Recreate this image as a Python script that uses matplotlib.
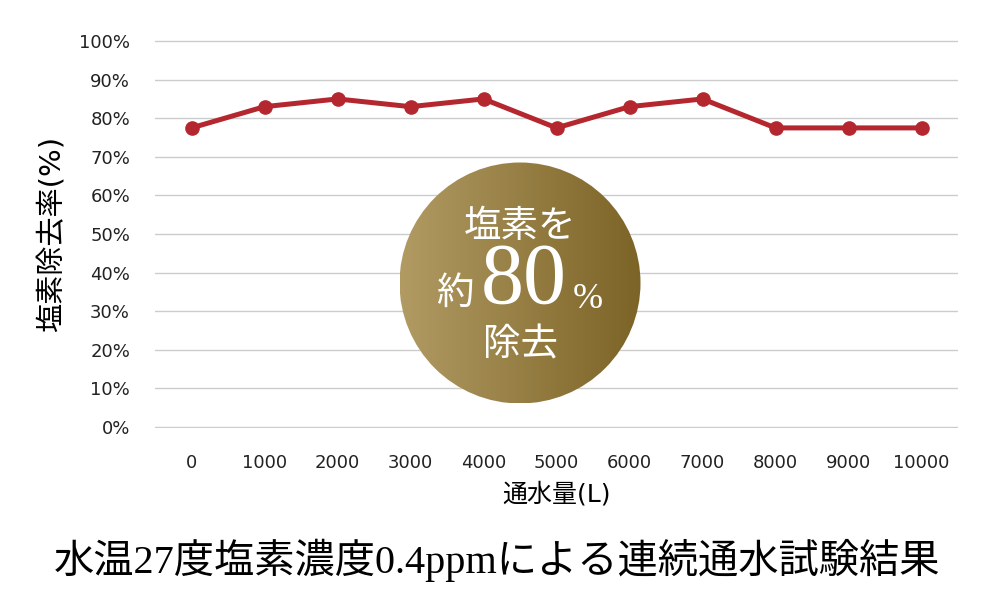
import numpy as np
import matplotlib
matplotlib.use("Agg")
import matplotlib.pyplot as plt
from matplotlib.patches import Circle
from matplotlib.colors import LinearSegmentedColormap

plt.rcParams['font.family'] = ['DejaVu Sans', 'Noto Sans CJK JP']

# data
volume = ["0", "1000", "2000", "3000", "4000", "5000", "6000", "7000", "8000", "9000", "10000"]
removal = [77.5, 83, 85, 83, 85, 77.5, 83, 85, 77.5, 77.5, 77.5]
yticks = [0, 10, 20, 30, 40, 50, 60, 70, 80, 90, 100]

fig = plt.figure(figsize=(10, 6), dpi=100)
ax = fig.add_axes([0.155, 0.2866, 0.803, 0.6466])

x = np.arange(len(volume))
ax.plot(x, removal, color='#b5272f', lw=3.6, marker='o', ms=9.5, zorder=3)

ax.set_xlim(-0.5, len(volume) - 0.5)
ax.set_ylim(-0.25, 100.25)
ax.set_yticks(yticks)
ax.set_yticklabels([f"{v}%" for v in yticks], fontsize=13, color='#222222')
ax.set_xticks(x)
ax.set_xticklabels(volume, fontsize=13, color='#222222')
ax.tick_params(axis='both', length=0)
ax.tick_params(axis='x', pad=19)
ax.tick_params(axis='y', pad=18)
ax.grid(True, axis='y', color='#cccccc', lw=1)
ax.set_axisbelow(True)
for s in ax.spines.values():
    s.set_visible(False)

ax.set_ylabel("塩素除去率(%)", fontsize=21, labelpad=10)
ax.set_xlabel("通水量(L)", fontsize=18, labelpad=7)

fig.text(0.497, 0.066, "水温27度塩素濃度0.4ppmによる連続通水試験結果", ha='center', va='center',
         fontsize=29, family=['Liberation Serif', 'Noto Sans CJK JP'])

# badge with gradient
ov = fig.add_axes([0, 0, 1, 1], zorder=5)
ov.set_xlim(0, 1000)
ov.set_ylim(600, 0)
ov.axis('off')
ov.patch.set_alpha(0)
cx, cy, r = 520, 283, 120.5
cmap = LinearSegmentedColormap.from_list('gold', ['#b19b63', '#7c6326'])
grad = np.linspace(0, 1, 256).reshape(1, -1)
im = ov.imshow(grad, cmap=cmap, extent=[cx - r, cx + r, cy + r, cy - r], aspect='auto')
circ = Circle((cx, cy), r, transform=ov.transData, facecolor='none', edgecolor='none')
ov.add_patch(circ)
im.set_clip_path(circ)

ov.text(cx, 227, "塩素を", ha='center', va='center', color='white', fontsize=27,
        family=['Noto Sans CJK JP'])
ov.text(455, 293, "約", ha='center', va='center', color='white', fontsize=27,
        family=['Noto Sans CJK JP'])
ov.text(524, 282, "80", ha='center', va='center', color='white', fontsize=62,
        family=['Liberation Serif'])
ov.text(588, 299, "%", ha='center', va='center', color='white', fontsize=26,
        family=['Liberation Serif'])
ov.text(cx, 345, "除去", ha='center', va='center', color='white', fontsize=27,
        family=['Noto Sans CJK JP'])

fig.savefig("out.png", dpi=100)
